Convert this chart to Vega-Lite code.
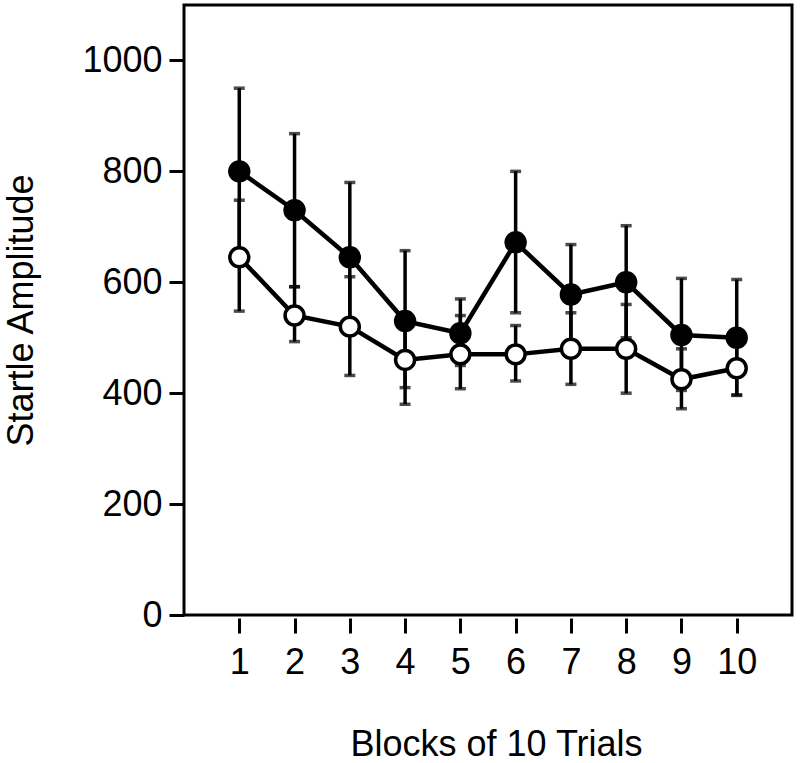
{
  "$schema": "https://vega.github.io/schema/vega-lite/v6.json",
  "autosize": "none",
  "width": 608,
  "height": 610,
  "padding": {"left": 184, "top": 5, "right": 8, "bottom": 148},
  "background": "white",
  "config": {
    "view": {"stroke": "black", "strokeWidth": 3},
    "font": "Liberation Sans"
  },
  "data": {
    "values": [
      {"block": 1, "group": "filled", "mean": 800, "lo": 650, "hi": 950},
      {"block": 2, "group": "filled", "mean": 730, "lo": 592, "hi": 868},
      {"block": 3, "group": "filled", "mean": 645, "lo": 510, "hi": 780},
      {"block": 4, "group": "filled", "mean": 530, "lo": 410, "hi": 657},
      {"block": 5, "group": "filled", "mean": 508, "lo": 450, "hi": 570},
      {"block": 6, "group": "filled", "mean": 672, "lo": 545, "hi": 800},
      {"block": 7, "group": "filled", "mean": 578, "lo": 488, "hi": 668},
      {"block": 8, "group": "filled", "mean": 600, "lo": 500, "hi": 702},
      {"block": 9, "group": "filled", "mean": 505, "lo": 405, "hi": 607},
      {"block": 10, "group": "filled", "mean": 500, "lo": 397, "hi": 605},
      {"block": 1, "group": "open", "mean": 645, "lo": 548, "hi": 748},
      {"block": 2, "group": "open", "mean": 540, "lo": 493, "hi": 592},
      {"block": 3, "group": "open", "mean": 520, "lo": 432, "hi": 610},
      {"block": 4, "group": "open", "mean": 460, "lo": 380, "hi": 540},
      {"block": 5, "group": "open", "mean": 470, "lo": 408, "hi": 540},
      {"block": 6, "group": "open", "mean": 470, "lo": 422, "hi": 522},
      {"block": 7, "group": "open", "mean": 480, "lo": 416, "hi": 545},
      {"block": 8, "group": "open", "mean": 480, "lo": 400, "hi": 560},
      {"block": 9, "group": "open", "mean": 425, "lo": 372, "hi": 480},
      {"block": 10, "group": "open", "mean": 445, "lo": 396, "hi": 495}
    ]
  },
  "encoding": {
    "x": {
      "field": "block", "type": "quantitative",
      "scale": {"domain": [0, 11], "nice": false, "zero": false},
      "axis": {
        "title": "Blocks of 10 Trials",
        "values": [1, 2, 3, 4, 5, 6, 7, 8, 9, 10],
        "grid": false, "domain": false, "offset": 3,
        "ticks": true, "tickSize": 15, "tickWidth": 3, "tickColor": "black",
        "labelFont": "Liberation Sans", "labelFontSize": 36, "labelColor": "black",
        "labelBaseline": "alphabetic", "labelPadding": 40, "labelFlush": false,
        "titleFont": "Liberation Sans", "titleFontSize": 36, "titleFontWeight": "normal", "titleColor": "black",
        "titleBaseline": "alphabetic", "titleY": 137, "titleX": 312, "titleAnchor": "middle"
      }
    }
  },
  "layer": [
    {
      "mark": {"type": "rule", "strokeWidth": 3.5, "color": "black"},
      "encoding": {
        "y": {
          "field": "lo", "type": "quantitative",
          "scale": {"domain": [0, 1100], "nice": false},
          "axis": {
            "title": "Startle Amplitude",
            "values": [0, 200, 400, 600, 800, 1000],
            "format": "d",
            "grid": false, "domain": false,
            "tickSize": 15, "tickWidth": 3, "tickColor": "black",
            "labelFont": "Liberation Sans", "labelFontSize": 36, "labelColor": "black",
            "labelPadding": 7, "labelFlush": false,
            "titleFont": "Liberation Sans", "titleFontSize": 36, "titleFontWeight": "normal", "titleColor": "black",
            "titleAngle": -90, "titleBaseline": "middle", "titleX": -163, "titleY": 305, "titleAnchor": "middle"
          }
        },
        "y2": {"field": "hi"}
      }
    },
    {
      "mark": {"type": "tick", "orient": "horizontal", "size": 11, "thickness": 3.5, "color": "black"},
      "encoding": {"y": {"field": "lo", "type": "quantitative"}}
    },
    {
      "mark": {"type": "tick", "orient": "horizontal", "size": 11, "thickness": 3.5, "color": "black"},
      "encoding": {"y": {"field": "hi", "type": "quantitative"}}
    },
    {
      "mark": {"type": "line", "strokeWidth": 4.5, "color": "black"},
      "encoding": {
        "y": {"field": "mean", "type": "quantitative"},
        "detail": {"field": "group"}
      }
    },
    {
      "mark": {"type": "point", "shape": "circle", "filled": true, "size": 360, "stroke": "black", "strokeWidth": 3.5, "opacity": 1},
      "encoding": {
        "y": {"field": "mean", "type": "quantitative"},
        "fill": {
          "field": "group", "type": "nominal",
          "scale": {"domain": ["filled", "open"], "range": ["black", "white"]},
          "legend": null
        }
      }
    }
  ]
}
